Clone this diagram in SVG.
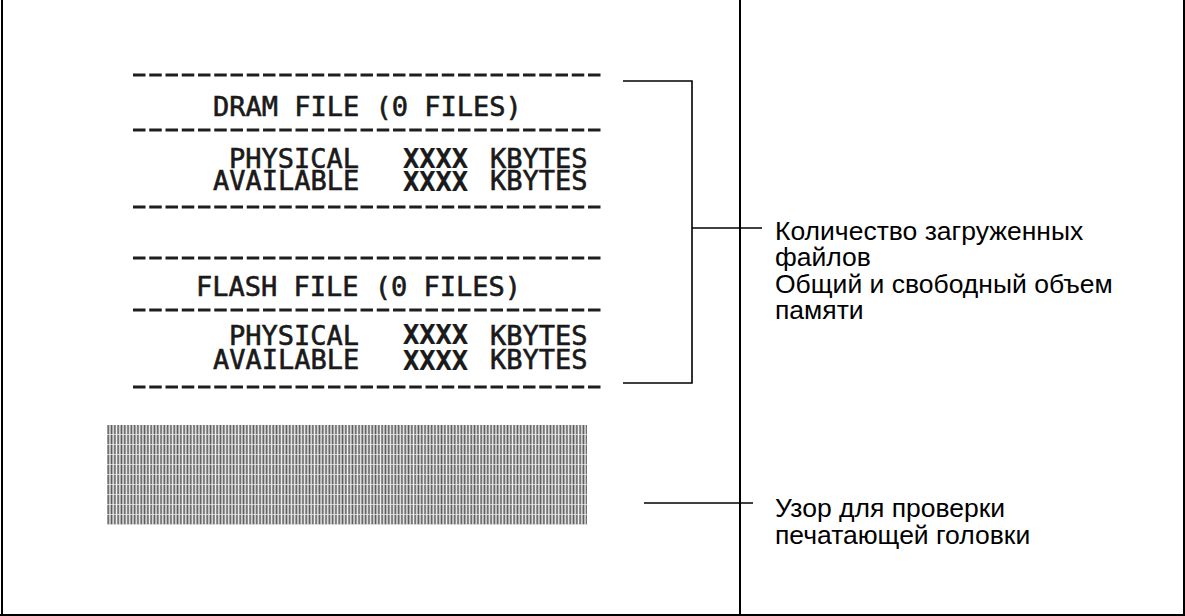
<svg xmlns="http://www.w3.org/2000/svg" width="1185" height="616" viewBox="0 0 1185 616">
  <style>
    .frame { stroke: #000; stroke-width: 2; fill: none; }
    .dash { stroke: #1e1e1e; stroke-width: 3; stroke-dasharray: 12.5 3.75; fill: none; }
    .prn { font-family: "DejaVu Sans Mono", "Liberation Mono", monospace; font-size: 27px; fill: #1a1a1a; stroke: #1a1a1a; stroke-width: 0.6; }
    .bold { font-weight: bold; stroke-width: 0.2; }
    .lbl { font-family: "Liberation Sans", Arial, sans-serif; font-size: 26.5px; fill: #000; }
    .conn { stroke: #000; stroke-width: 1.6; fill: none; }
  </style>
  <defs>
    <pattern id="stripes" x="107" y="425" width="3.3" height="10" patternUnits="userSpaceOnUse">
      <rect x="0" y="0" width="3.3" height="10" fill="#f0f0f0"/>
      <rect x="0.4" y="0" width="1.7" height="9.3" fill="#5a5a5a"/>
    </pattern>
  </defs>
  <rect width="1185" height="616" fill="#fff"/>

  <g id="frame">
    <line class="frame" x1="2" y1="0" x2="2" y2="616"/>
    <line class="frame" x1="1184" y1="0" x2="1184" y2="616"/>
    <line class="frame" x1="0" y1="615" x2="1185" y2="615"/>
    <line class="frame" x1="740" y1="0" x2="740" y2="616"/>
  </g>

  <g id="printout-dram">
    <line class="dash" x1="133" y1="75" x2="602" y2="75"/>
    <text class="prn" x="213" y="116">DRAM FILE (0 FILES)</text>
    <line class="dash" x1="133" y1="130" x2="602" y2="130"/>
    <text class="prn" x="229" y="168">PHYSICAL</text>
    <text class="prn bold" x="403" y="168">XXXX</text>
    <text class="prn" x="490" y="168">KBYTES</text>
    <text class="prn" x="213" y="190">AVAILABLE</text>
    <text class="prn bold" x="403" y="191">XXXX</text>
    <text class="prn" x="490" y="190">KBYTES</text>
    <line class="dash" x1="133" y1="207" x2="602" y2="207"/>
  </g>

  <g id="printout-flash">
    <line class="dash" x1="133" y1="258" x2="602" y2="258"/>
    <text class="prn" x="196" y="296">FLASH FILE (0 FILES)</text>
    <line class="dash" x1="133" y1="310" x2="602" y2="310"/>
    <text class="prn" x="229" y="345">PHYSICAL</text>
    <text class="prn bold" x="403" y="344">XXXX</text>
    <text class="prn" x="490" y="345">KBYTES</text>
    <text class="prn" x="213" y="369">AVAILABLE</text>
    <text class="prn bold" x="403" y="370">XXXX</text>
    <text class="prn" x="490" y="369">KBYTES</text>
    <line class="dash" x1="133" y1="387" x2="602" y2="387"/>
  </g>

  <g id="test-pattern">
    <rect x="107" y="425" width="480" height="100" fill="url(#stripes)"/>
  </g>

  <g id="connectors">
    <polyline class="conn" points="623,81 692,81 692,383 623,383"/>
    <line class="conn" x1="692" y1="228" x2="762" y2="228" stroke-width="2.2"/>
    <line class="conn" x1="644" y1="503" x2="753" y2="503"/>
  </g>

  <g id="label-files">
    <text class="lbl" x="775" y="239.5">Количество загруженных</text>
    <text class="lbl" x="775" y="266">файлов</text>
    <text class="lbl" x="775" y="292.5">Общий и свободный объем</text>
    <text class="lbl" x="775" y="319">памяти</text>
  </g>

  <g id="label-pattern">
    <text class="lbl" x="775" y="517">Узор для проверки</text>
    <text class="lbl" x="775" y="544">печатающей головки</text>
  </g>
</svg>
